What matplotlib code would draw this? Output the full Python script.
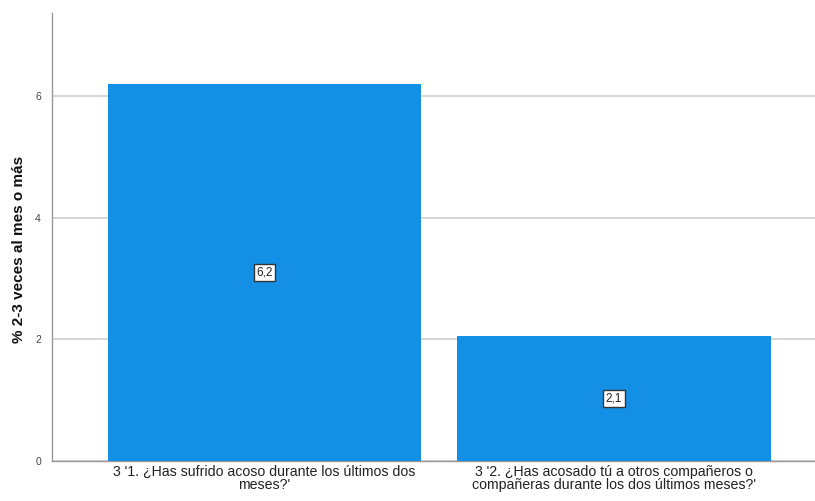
import matplotlib
matplotlib.use("Agg")
import matplotlib.pyplot as plt

categories = ["3 '1. ¿Has sufrido acoso durante los últimos dos\nmeses?'",
              "3 '2. ¿Has acosado tú a otros compañeros o\ncompañeras durante los dos últimos meses?'"]
values = [6.2, 2.05]
value_labels = ["6,2", "2,1"]
yticks = [0, 2, 4, 6]

plt.rcParams['font.family'] = ['Liberation Sans', 'DejaVu Sans']
fig = plt.figure(figsize=(8.15, 5.01), dpi=100)
ax = fig.add_axes([52/815, 40/501, 1 - 52/815, 448/501])

x = list(range(len(categories)))
ax.bar(x, values, width=0.896, color='#1390E6', zorder=3)
for xi, v, lab in zip(x, values, value_labels):
    ax.text(xi, v/2, lab, ha='center', va='center', fontsize=8.5, color='#222222', zorder=4,
            bbox=dict(boxstyle='square,pad=0.2', facecolor='white', edgecolor='#333333', linewidth=1))

ax.set_xlim(-0.608, 1.575)
ax.set_ylim(0, 7.36)
ax.set_yticks(yticks)
ax.set_yticklabels([str(t) for t in yticks], fontsize=7.5, color='#444444')
ax.set_xticks(x)
ax.set_xticklabels(categories, fontsize=10.2, color='#222222', linespacing=0.85)
ax.tick_params(axis='x', length=0, pad=3)
ax.tick_params(axis='y', length=0, pad=8)
ax.yaxis.grid(True, color='#d0d0d0', linewidth=1.2, zorder=0)
ax.set_axisbelow(True)
for s in ['top', 'right']:
    ax.spines[s].set_visible(False)
for s in ['left', 'bottom']:
    ax.spines[s].set_color('#999999')
    ax.spines[s].set_linewidth(1.0)
fig.text(19/815, 1 - 249/501, '% 2-3 veces al mes o más', rotation=90, ha='center', va='center',
         fontsize=11, fontweight='bold', color='#111111')

fig.savefig('out.png', dpi=100)
